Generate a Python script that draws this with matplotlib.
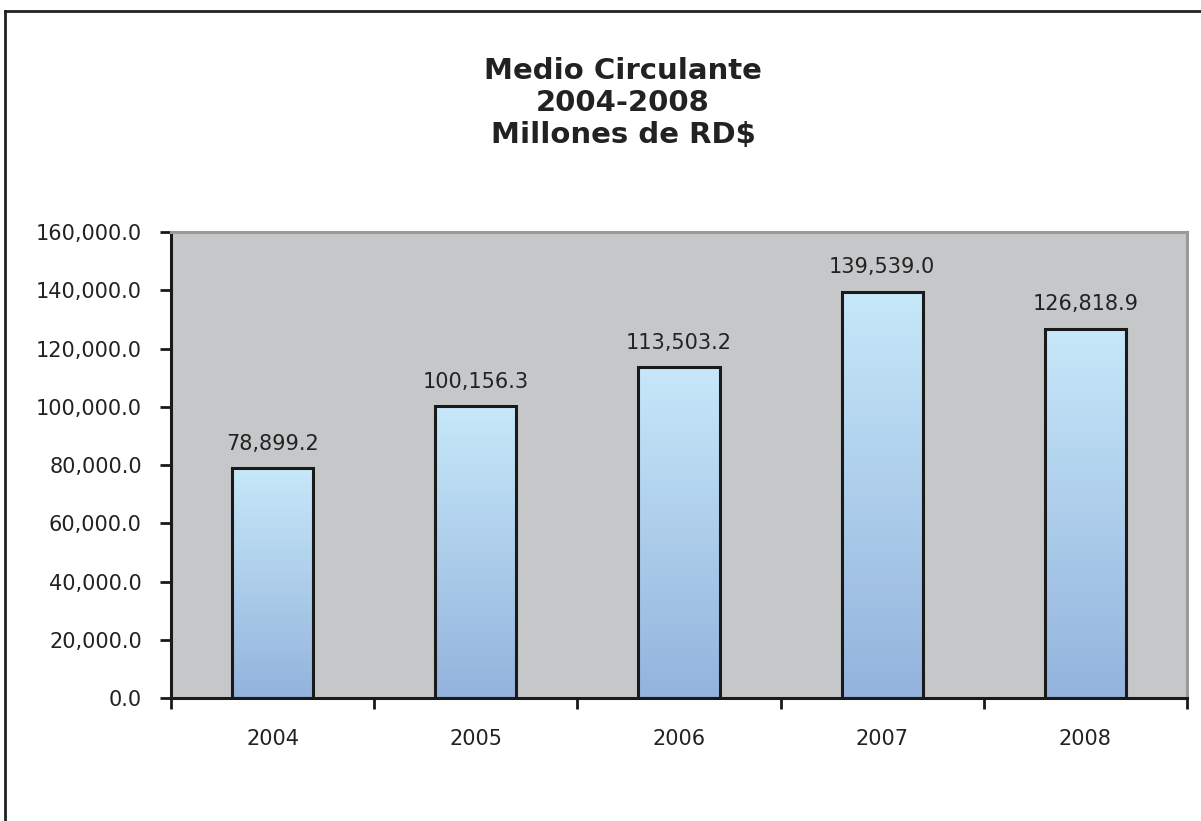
import numpy as np
import matplotlib
matplotlib.use("Agg")
import matplotlib.pyplot as plt
from matplotlib.colors import LinearSegmentedColormap
from matplotlib.lines import Line2D

years = ["2004", "2005", "2006", "2007", "2008"]
valores = [78899.2, 100156.3, 113503.2, 139539.0, 126818.9]
yticks = [0, 20000, 40000, 60000, 80000, 100000, 120000, 140000, 160000]

plt.rcParams['font.family'] = ['DejaVu Sans']

fig = plt.figure(figsize=(12.01, 8.21), dpi=100)
ax = fig.add_axes([171/1201, 1-698/821, 1016/1201, 466/821])
ax.set_facecolor("#c6c7c9")

# gradiente de cada barra (claro arriba, oscuro abajo)
cmap = LinearSegmentedColormap.from_list("grad", ["#94b3dd", "#c6e8f9"])
grad = np.linspace(0, 1, 256).reshape(-1, 1)

x = np.arange(len(years))
w = 0.4
bars = ax.bar(x, valores, width=w, facecolor="none", edgecolor="#1a1a1a", linewidth=2.2, zorder=3)
for b in bars:
    x0 = b.get_x()
    h = b.get_height()
    ax.imshow(grad, extent=[x0, x0 + w, 0, h], origin="lower", aspect="auto", cmap=cmap, zorder=2)

for xi, v in zip(x, valores):
    ax.text(xi, v + 5000, f"{v:,.1f}", ha="center", va="bottom", fontsize=15, color="#222222")

ax.set_xlim(-0.5, len(years) - 0.5)
ax.set_ylim(0, 160000)
ax.set_yticks(yticks)
ax.set_yticklabels([f"{t:,.1f}" for t in yticks], fontsize=15, color="#222222")
ax.set_xticks(x)
ax.set_xticklabels(years, fontsize=15, color="#222222")
ax.tick_params(axis="x", which="major", length=0, pad=22)
ax.set_xticks(np.arange(-0.5, len(years)), minor=True)
ax.tick_params(axis="x", which="minor", length=8, width=2, direction="out", color="#1a1a1a")
ax.tick_params(axis="y", length=8, width=2, direction="out", color="#1a1a1a", pad=13)

for s in ["left", "bottom"]:
    ax.spines[s].set_color("#1a1a1a")
    ax.spines[s].set_linewidth(2.2)
for s in ["top", "right"]:
    ax.spines[s].set_color("#9a9a9a")
    ax.spines[s].set_linewidth(2.2)

fig.text(623/1201, 1-103/821, "Medio Circulante\n2004-2008\nMillones de RD$", ha="center", va="center",
         fontsize=21, fontweight="bold", color="#222222", linespacing=1.2)

# borde del gráfico (solo arriba e izquierda visibles)
fig.add_artist(Line2D([5/1201, 5/1201], [0, 1-11/821], transform=fig.transFigure, color="#222222", lw=2))
fig.add_artist(Line2D([5/1201, 1], [1-11/821, 1-11/821], transform=fig.transFigure, color="#222222", lw=2))

fig.savefig("out.png", dpi=100)
